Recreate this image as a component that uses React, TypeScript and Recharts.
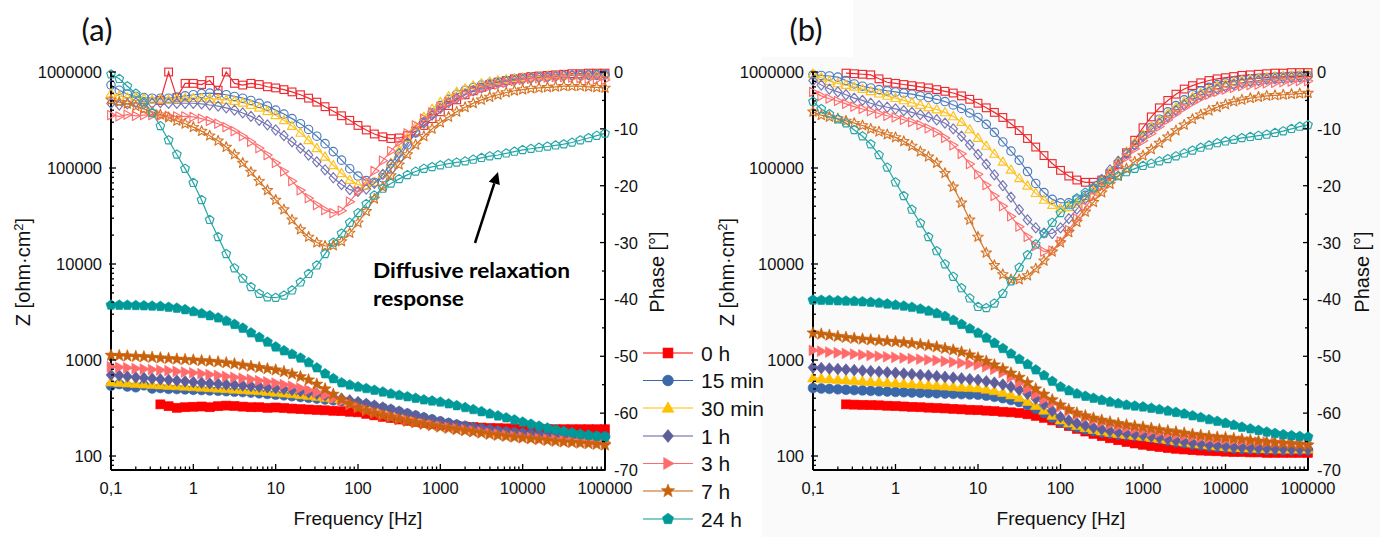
import React from "react";
import { ComposedChart, Line, XAxis, YAxis } from "recharts";

// frequency grid, 10 points per decade
const FREQ = [
  0.1, 0.126, 0.158, 0.2, 0.251, 0.316, 0.398, 0.501, 0.631, 0.794,
  1, 1.26, 1.58, 2, 2.51, 3.16, 3.98, 5.01, 6.31, 7.94,
  10, 12.6, 15.8, 20, 25.1, 31.6, 39.8, 50.1, 63.1, 79.4,
  100, 126, 158, 200, 251, 316, 398, 501, 631, 794,
  1000, 1260, 1580, 2000, 2510, 3160, 3980, 5010, 6310, 7940,
  10000, 12600, 15800, 20000, 25100, 31600, 39800, 50100, 63100, 79400,
  100000,
];

const X_MAJOR = [0.1, 1, 10, 100, 1000, 10000, 100000];
const X_LABELS = ["0,1", "1", "10", "100", "1000", "10000", "100000"];
const Z_MAJOR = [100, 1000, 10000, 100000, 1000000];
const Z_LABELS = ["100", "1000", "10000", "100000", "1000000"];
const P_MAJOR = [0, -10, -20, -30, -40, -50, -60, -70];
const P_LABELS = ["0", "-10", "-20", "-30", "-40", "-50", "-60", "-70"];
const LEGEND_NAMES = ["0 h", "15 min", "30 min", "1 h", "3 h", "7 h", "24 h"];

// ---------- panel (a): |Z| ----------
const A_Z_0H = [
  null, null, null, null, null, null, 345, 330, 318, 322,
  326, 328, 322, 330, 335, 332, 327, 322, 322, 318,
  320, 316, 312, 308, 305, 302, 299, 296, 293, 289,
  285, 275, 265, 256, 248, 240, 233, 227, 221, 216,
  212, 208, 205, 202, 200, 198, 196, 195, 194, 193,
  192, 191, 191, 190, 190, 190, 190, 190, 190, 190,
  190,
];
const A_Z_15M = [
  540, 560, 530, 520, 545, 505, 510, 500, 498, 494,
  490, 486, 482, 478, 473, 468, 463, 457, 450, 443,
  435, 428, 420, 412, 404, 396, 388, 380, 372, 364,
  356, 344, 331, 318, 304, 290, 276, 263, 251, 240,
  229, 220, 212, 205, 198, 192, 187, 182, 178, 175,
  172, 169, 167, 165, 164, 163, 162, 161, 160, 160,
  160,
];
const A_Z_30M = [
  590, 582, 575, 568, 561, 555, 549, 543, 537, 531,
  525, 519, 513, 507, 501, 495, 489, 483, 477, 469,
  460, 452, 444, 435, 425, 415, 405, 395, 385, 372,
  360, 346, 332, 318, 303, 288, 274, 261, 249, 237,
  226, 216, 208, 200, 193, 187, 182, 177, 173, 169,
  166, 163, 160, 158, 156, 154, 153, 152, 151, 150,
  150,
];
const A_Z_1H = [
  700, 690, 675, 660, 650, 640, 630, 620, 610, 600,
  590, 580, 572, 565, 557, 550, 543, 536, 528, 520,
  510, 500, 488, 475, 460, 445, 428, 410, 395, 380,
  365, 350, 335, 320, 305, 290, 275, 262, 250, 238,
  227, 218, 210, 203, 197, 191, 186, 182, 178, 175,
  172, 169, 167, 165, 163, 161, 159, 158, 157, 156,
  155,
];
const A_Z_3H = [
  850, 840, 830, 815, 805, 795, 785, 775, 760, 748,
  735, 720, 705, 690, 675, 660, 645, 630, 610, 592,
  575, 555, 535, 510, 485, 460, 430, 400, 370, 345,
  322, 302, 285, 270, 257, 245, 235, 226, 218, 211,
  205, 199, 193, 188, 183, 178, 173, 169, 165, 161,
  158, 155, 152, 150, 148, 146, 144, 142, 141, 140,
  139,
];
const A_Z_7H = [
  1120, 1110, 1100, 1090, 1080, 1065, 1050, 1035, 1020, 1010,
  1000, 985, 970, 955, 935, 910, 885, 860, 835, 810,
  787, 755, 715, 670, 620, 560, 500, 440, 390, 350,
  318, 295, 278, 264, 252, 240, 230, 222, 214, 207,
  200, 194, 188, 183, 178, 173, 168, 164, 160, 157,
  154, 151, 148, 145, 142, 140, 138, 136, 134, 132,
  130,
];
const A_Z_24H = [
  3740, 3730, 3720, 3700, 3680, 3650, 3620, 3550, 3470, 3350,
  3200, 3050, 2900, 2750, 2550, 2350, 2150, 1920, 1720, 1540,
  1370, 1250, 1150, 1050, 940, 830, 720, 640, 580, 550,
  525, 505, 485, 465, 445, 430, 415, 400, 385, 375,
  365, 350, 335, 320, 305, 290, 275, 262, 250, 238,
  226, 215, 205, 196, 188, 181, 175, 169, 165, 161,
  158,
];

// ---------- panel (a): phase ----------
const A_P_0H = [
  null, null, null, null, null, null, -5, 0, -4.5, -2,
  -2, -2.2, -1.5, -3.2, 0, -2, -2.3, -2, -2.2, -2.6,
  -2.8, -3.1, -3.5, -4, -4.6, -5.3, -6.1, -6.9, -7.7, -8.5,
  -9.4, -10.2, -10.9, -11.4, -11.7, -11.6, -11.2, -10.4, -9.4, -8.2,
  -7, -5.9, -4.9, -4, -3.3, -2.7, -2.2, -1.8, -1.5, -1.2,
  -1, -0.8, -0.7, -0.6, -0.5, -0.4, -0.3, -0.3, -0.2, -0.2,
  -0.2,
];
const A_P_15M = [
  -2.3, -3.2, -3.9, -4.3, -4.5, -4.6, -4.6, -4.6, -4.4, -4.2,
  -4, -3.8, -3.7, -3.8, -4, -4.3, -4.6, -5, -5.5, -6,
  -6.7, -7.4, -8.2, -9.1, -10.1, -11.3, -12.6, -14, -15.5, -17,
  -18.3, -19.1, -19.4, -18.6, -17, -15, -12.8, -10.7, -8.8, -7.2,
  -5.9, -4.8, -3.9, -3.2, -2.7, -2.3, -2, -1.7, -1.5, -1.3,
  -1.1, -1, -0.9, -0.8, -0.7, -0.6, -0.6, -0.5, -0.5, -0.4,
  -0.4,
];
const A_P_30M = [
  -3.8, -4.2, -4.5, -4.4, -4.7, -4.9, -4.8, -4.9, -4.7, -4.6,
  -4.6, -4.6, -4.7, -4.8, -4.9, -5.1, -5.4, -5.8, -6.3, -6.9,
  -7.6, -8.5, -9.5, -10.7, -12, -13.4, -14.9, -16.4, -17.8, -19,
  -19.8, -20, -19.4, -18, -16, -13.8, -11.6, -9.6, -7.9, -6.5,
  -5.3, -4.3, -3.5, -2.9, -2.4, -2, -1.7, -1.5, -1.3, -1.1,
  -1, -0.9, -0.8, -0.7, -0.7, -0.6, -0.6, -0.5, -0.5, -0.5,
  -0.5,
];
const A_P_1H = [
  -5.5, -5.8, -5.6, -5.4, -5.6, -5.5, -5.4, -5.5, -5.5, -5.5,
  -5.5, -5.6, -5.8, -6, -6.3, -6.7, -7.2, -7.8, -8.5, -9.3,
  -10.2, -11.2, -12.3, -13.4, -14.6, -15.8, -17.2, -18.6, -19.8, -20.7,
  -21, -20.6, -19.6, -18, -16.2, -14.3, -12.4, -10.6, -9, -7.6,
  -6.4, -5.4, -4.6, -3.9, -3.3, -2.8, -2.4, -2, -1.7, -1.5,
  -1.3, -1.1, -1, -0.9, -0.8, -0.7, -0.6, -0.6, -0.5, -0.5,
  -0.5,
];
const A_P_3H = [
  -7.6, -7.8, -7.5, -7.7, -7.6, -7.6, -7.7, -7.7, -7.8, -7.8,
  -7.9, -8.2, -8.6, -9.1, -9.7, -10.4, -11.3, -12.3, -13.4, -14.6,
  -16, -17.5, -19.2, -20.8, -22.2, -23.4, -24.3, -24.8, -24.4, -22.8,
  -21, -19.2, -17.4, -15.6, -13.9, -12.3, -10.8, -9.4, -8.2, -7.1,
  -6.1, -5.3, -4.6, -4, -3.4, -2.9, -2.5, -2.2, -1.9, -1.6,
  -1.4, -1.2, -1.1, -1, -0.9, -0.9, -1, -1.1, -1.2, -1.3,
  -1.4,
];
const A_P_7H = [
  -4.9, -5.3, -5.6, -6, -6.5, -7, -7.5, -8, -8.6, -9.1,
  -9.7, -10.4, -11.2, -12.1, -13.2, -14.5, -16, -17.6, -19.2, -20.8,
  -22.5, -24.2, -26, -27.7, -29, -30, -30.6, -30.5, -29.8, -28.3,
  -26.5, -24.5, -22.3, -20.2, -18.2, -16.3, -14.5, -12.8, -11.3, -10,
  -8.9, -7.9, -7, -6.2, -5.5, -4.9, -4.4, -4, -3.6, -3.3,
  -3.1, -2.9, -2.8, -2.7, -2.6, -2.5, -2.5, -2.5, -2.6, -2.7,
  -2.8,
];
const A_P_24H = [
  -0.4, -1.2, -2.5, -3.8, -5.3, -7.2, -9.5, -12, -14.5, -17,
  -19.5, -22.5, -26, -29, -32, -34.5, -36.3, -37.8, -39, -39.6,
  -39.7, -39.3, -38.4, -37, -35.5, -34, -32, -30, -28.4, -26.5,
  -24.8, -23.2, -21.7, -20.5, -19.6, -18.8, -18.1, -17.5, -17, -16.7,
  -16.4, -16.1, -15.9, -15.7, -15.4, -15.1, -14.8, -14.6, -14.3, -14,
  -13.7, -13.5, -13.3, -13.1, -12.9, -12.7, -12.4, -12, -11.6, -11.2,
  -10.8,
];

// ---------- panel (b): |Z| ----------
const B_Z_0H = [
  null, null, null, null, 345, 343, 341, 339, 337, 334,
  331, 328, 325, 322, 319, 316, 313, 310, 306, 303,
  300, 297, 293, 289, 285, 280, 272, 262, 250, 235,
  220, 205, 192, 180, 170, 161, 153, 146, 140, 135,
  131, 127, 124, 121, 119, 117, 115, 114, 113, 112,
  111, 110, 110, 109, 109, 108, 108, 108, 108, 108,
  108,
];
const B_Z_15M = [
  510, 505, 500, 495, 490, 486, 482, 477, 473, 469,
  465, 462, 459, 456, 453, 450, 447, 444, 441, 438,
  435, 425, 413, 400, 383, 365, 340, 310, 280, 250,
  225, 210, 198, 189, 182, 176, 171, 167, 164, 162,
  160, 155, 150, 145, 140, 136, 132, 129, 126, 124,
  122, 120, 119, 118, 117, 116, 116, 115, 115, 115,
  115,
];
const B_Z_30M = [
  650, 642, 634, 626, 618, 610, 603, 596, 589, 582,
  575, 568, 561, 554, 547, 540, 534, 527, 520, 515,
  510, 495, 478, 458, 432, 405, 370, 335, 300, 265,
  237, 220, 207, 197, 189, 182, 176, 171, 167, 163,
  160, 156, 152, 148, 144, 140, 136, 133, 130, 127,
  125, 123, 122, 121, 120, 119, 119, 118, 118, 118,
  118,
];
const B_Z_1H = [
  835, 825, 815, 805, 795, 785, 775, 765, 755, 745,
  735, 723, 712, 700, 690, 678, 667, 655, 643, 632,
  620, 600, 580, 555, 525, 490, 445, 395, 345, 295,
  255, 235, 220, 208, 198, 190, 183, 177, 172, 168,
  165, 160, 155, 150, 145, 141, 137, 134, 131, 128,
  126, 124, 123, 122, 121, 120, 119, 119, 118, 118,
  118,
];
const B_Z_3H = [
  1260, 1235, 1210, 1190, 1170, 1150, 1130, 1115, 1095, 1080,
  1065, 1050, 1035, 1020, 1005, 990, 970, 950, 930, 910,
  890, 850, 800, 740, 660, 580, 500, 440, 390, 355,
  325, 295, 270, 252, 237, 225, 214, 205, 197, 191,
  185, 180, 175, 170, 166, 162, 158, 155, 152, 150,
  148, 146, 144, 142, 140, 139, 138, 137, 136, 135,
  135,
];
const B_Z_7H = [
  1910, 1860, 1810, 1760, 1720, 1680, 1650, 1620, 1590, 1570,
  1550, 1520, 1490, 1450, 1410, 1370, 1320, 1270, 1210, 1130,
  1050, 970, 890, 810, 730, 660, 580, 500, 440, 385,
  340, 305, 280, 262, 248, 236, 226, 218, 211, 205,
  200, 194, 188, 183, 178, 173, 168, 164, 160, 157,
  155, 152, 149, 146, 143, 140, 138, 136, 134, 132,
  130,
];
const B_Z_24H = [
  4220, 4200, 4180, 4150, 4120, 4090, 4050, 4000, 3930, 3840,
  3740, 3650, 3540, 3400, 3240, 3060, 2850, 2600, 2350, 2120,
  1910, 1700, 1500, 1320, 1160, 1020, 900, 790, 690, 600,
  525, 480, 445, 420, 400, 382, 366, 352, 340, 332,
  325, 315, 305, 295, 285, 275, 263, 252, 240, 230,
  220, 210, 200, 192, 185, 178, 172, 167, 163, 160,
  158,
];

// ---------- panel (b): phase ----------
const B_P_0H = [
  null, null, null, null, -0.2, -0.3, -0.4, -0.5, -1.2, -1.8,
  -2, -2.2, -2.4, -2.6, -2.8, -3.1, -3.4, -3.7, -4.2, -4.8,
  -5.5, -6.3, -7.1, -8, -9.1, -10.3, -11.7, -13.2, -14.7, -16.1,
  -17.3, -18.3, -19, -19.4, -19.4, -19, -18, -16.3, -14.2, -12,
  -9.8, -7.9, -6.3, -5, -3.9, -3, -2.4, -1.9, -1.5, -1.2,
  -1, -0.8, -0.6, -0.5, -0.4, -0.3, -0.2, -0.2, -0.1, -0.1,
  -0.1,
];
const B_P_15M = [
  -0.5, -0.6, -0.7, -0.9, -1.5, -2.1, -2.5, -2.8, -3.1, -3.3,
  -3.5, -3.7, -3.9, -4.2, -4.5, -4.8, -5.2, -5.8, -6.4, -7.2,
  -8, -9.2, -10.6, -12.3, -13.9, -15.5, -17.5, -19.6, -21.2, -22.4,
  -23, -23, -22.5, -21.7, -20.6, -19.3, -17.8, -16.1, -14.4, -12.8,
  -11.2, -9.7, -8.3, -7, -5.9, -4.9, -4, -3.3, -2.7, -2.2,
  -1.9, -1.6, -1.4, -1.2, -1.1, -1, -0.9, -0.8, -0.7, -0.6,
  -0.6,
];
const B_P_30M = [
  -0.3, -1, -1.6, -2, -2.3, -2.6, -3, -3.4, -3.8, -4.2,
  -4.6, -5, -5.4, -5.8, -6.2, -6.6, -7.1, -7.8, -8.8, -10.1,
  -11.6, -13, -14.4, -15.8, -17.2, -18.7, -20, -21.3, -22.5, -23.4,
  -24, -23.8, -23.2, -22.2, -20.9, -19.3, -17.6, -15.8, -14, -12.4,
  -11, -9.7, -8.5, -7.3, -6.2, -5.2, -4.4, -3.7, -3.1, -2.5,
  -2.1, -1.8, -1.5, -1.3, -1.1, -0.9, -0.8, -0.7, -0.6, -0.5,
  -0.4,
];
const B_P_1H = [
  -1.5, -2.3, -3, -3.5, -4, -4.6, -5, -5.5, -5.9, -6.2,
  -6.5, -6.8, -7.1, -7.5, -7.9, -8.4, -9, -10, -11.3, -12.8,
  -14.5, -16.2, -18.1, -20, -22, -24.2, -26, -27.4, -28.3, -28.4,
  -27.4, -25.8, -24.1, -22.3, -20.5, -18.9, -17.2, -15.7, -14.3, -12.8,
  -11.4, -10.1, -9, -7.9, -6.8, -5.8, -4.9, -4.1, -3.5, -3,
  -2.6, -2.2, -1.9, -1.7, -1.5, -1.3, -1.2, -1.1, -1, -0.9,
  -0.8,
];
const B_P_3H = [
  -3.5, -4.2, -4.7, -5.1, -5.6, -6.1, -6.5, -6.9, -7.3, -7.7,
  -8, -8.4, -8.8, -9.3, -9.9, -10.6, -11.6, -12.9, -14.4, -16.2,
  -18, -19.9, -21.8, -23.6, -25.4, -27.2, -29, -30.6, -31.6, -31.4,
  -29.8, -27.8, -25.8, -23.8, -21.9, -20.1, -18.3, -16.6, -15, -13.5,
  -12.1, -10.8, -9.6, -8.4, -7.3, -6.3, -5.4, -4.6, -4, -3.5,
  -3.1, -2.8, -2.5, -2.3, -2.2, -2, -1.9, -1.8, -1.7, -1.6,
  -1.6,
];
const B_P_7H = [
  -7, -7.6, -7.9, -8.2, -8.6, -9, -9.4, -10, -10.5, -11,
  -11.5, -12.2, -13, -14, -14.9, -16, -17.8, -20.2, -23, -26,
  -29, -31.8, -34, -35.6, -36.5, -36.5, -35.8, -34.6, -33.2, -31.6,
  -30, -28.2, -26.4, -24.6, -22.9, -21.2, -19.7, -18.3, -17, -15.8,
  -14.7, -13.6, -12.5, -11.4, -10.3, -9.3, -8.3, -7.5, -6.8, -6.2,
  -5.7, -5.2, -4.9, -4.6, -4.4, -4.2, -4.1, -4, -3.9, -3.8,
  -3.7,
];
const B_P_24H = [
  -5.2, -6.5, -7.4, -8.3, -9, -10.2, -11.3, -12.7, -14.6, -16.8,
  -19.4, -21.8, -24.2, -26.6, -29, -31.5, -33.8, -36, -38, -39.8,
  -41.3, -41.5, -40.7, -39, -36.8, -34.4, -32.2, -30.3, -28.4, -26.5,
  -24.8, -23.4, -22.2, -21.2, -20.3, -19.5, -18.9, -18.3, -17.6, -17,
  -16.5, -16.1, -15.7, -15.3, -14.8, -14.3, -13.8, -13.3, -12.9, -12.5,
  -12.2, -11.9, -11.6, -11.4, -11.2, -11, -10.7, -10.4, -10, -9.6,
  -9.3,
];

type Shape = "square" | "circle" | "triangle" | "diamond" | "tright" | "star" | "pentagon";

const STYLES: { shape: Shape; color: string; open: string }[] = [
  { shape: "square", color: "#ff0000", open: "#ee2a30" },
  { shape: "circle", color: "#3a68a8", open: "#4d7cbd" },
  { shape: "triangle", color: "#ffc000", open: "#ffc21e" },
  { shape: "diamond", color: "#5e5e9c", open: "#7676b4" },
  { shape: "tright", color: "#ff6b6b", open: "#ff6e6e" },
  { shape: "star", color: "#c8620c", open: "#d67526" },
  { shape: "pentagon", color: "#009999", open: "#27a6a6" },
];

const FONT = "'Liberation Sans', Arial, sans-serif";
const Z_MIN = 71.5;

const minorTicks = (from: number, to: number) => {
  const out: number[] = [];
  for (let e = from; e <= to; e++) for (let m = 2; m <= 9; m++) out.push(m * Math.pow(10, e));
  return out;
};
const X_TICKS = [...X_MAJOR, ...minorTicks(-1, 4)];
const Z_TICKS = [...Z_MAJOR, 80, 90, ...minorTicks(2, 5)];
const P_TICKS = [...P_MAJOR, -5, -15, -25, -35, -45, -55, -65];

const poly = (p: number[][]) => p.map(([x, y]) => `${x.toFixed(2)},${y.toFixed(2)}`).join(" ");

function shapePoints(shape: Shape, cx: number, cy: number, r: number) {
  if (shape === "triangle") return poly([[cx, cy - r * 1.15], [cx + r * 1.1, cy + r * 0.8], [cx - r * 1.1, cy + r * 0.8]]);
  if (shape === "tright") return poly([[cx + r * 1.15, cy], [cx - r * 0.8, cy - r * 1.1], [cx - r * 0.8, cy + r * 1.1]]);
  if (shape === "diamond") return poly([[cx, cy - r * 1.2], [cx + r, cy], [cx, cy + r * 1.2], [cx - r, cy]]);
  const pts: number[][] = [];
  if (shape === "pentagon") {
    for (let k = 0; k < 5; k++) {
      const a = (-90 + k * 72) * (Math.PI / 180);
      pts.push([cx + r * 1.08 * Math.cos(a), cy + r * 1.08 * Math.sin(a)]);
    }
  } else {
    for (let k = 0; k < 10; k++) {
      const a = (-90 + k * 36) * (Math.PI / 180);
      const rr = k % 2 === 0 ? r * 1.3 : r * 0.55;
      pts.push([cx + rr * Math.cos(a), cy + rr * Math.sin(a)]);
    }
  }
  return poly(pts);
}

function Mark({ shape, cx, cy, r, fill, stroke, sw }: { shape: Shape; cx: number; cy: number; r: number; fill: string; stroke: string; sw: number }) {
  if (shape === "circle") return <circle cx={cx} cy={cy} r={r} fill={fill} stroke={stroke} strokeWidth={sw} />;
  if (shape === "square")
    return <rect x={cx - r * 0.92} y={cy - r * 0.92} width={r * 1.84} height={r * 1.84} fill={fill} stroke={stroke} strokeWidth={sw} />;
  return <polygon points={shapePoints(shape, cx, cy, r)} fill={fill} stroke={stroke} strokeWidth={sw} strokeLinejoin="round" />;
}

const XTick = (p: any) => {
  const i = X_MAJOR.indexOf(p.payload.value);
  const major = i >= 0;
  return (
    <g>
      <line x1={p.x} x2={p.x} y1={p.y} y2={p.y - (major ? 6 : 3.5)} stroke="#000" strokeWidth={1.3} />
      {major && (
        <text x={p.x} y={p.y + 24} textAnchor="middle" fontSize={16.5} fontFamily={FONT} fill="#111">
          {X_LABELS[i]}
        </text>
      )}
    </g>
  );
};

const ZTick = (p: any) => {
  const i = Z_MAJOR.indexOf(p.payload.value);
  const major = i >= 0;
  return (
    <g>
      <line x1={major ? p.x - 2 : p.x} x2={p.x + (major ? 5 : 3)} y1={p.y} y2={p.y} stroke="#000" strokeWidth={1.3} />
      {major && (
        <text x={p.x - 9} y={p.y + 6} textAnchor="end" fontSize={16.5} fontFamily={FONT} fill="#111">
          {Z_LABELS[i]}
        </text>
      )}
    </g>
  );
};

const PTick = (p: any) => {
  const i = P_MAJOR.indexOf(p.payload.value);
  const major = i >= 0;
  return (
    <g>
      <line x1={major ? p.x + 1 : p.x} x2={p.x - (major ? 5 : 3)} y1={p.y} y2={p.y} stroke="#000" strokeWidth={1.3} />
      {major && (
        <text x={p.x + 9} y={p.y + 6} textAnchor="start" fontSize={16.5} fontFamily={FONT} fill="#111">
          {P_LABELS[i]}
        </text>
      )}
    </g>
  );
};

const dotRenderer = (j: number, filled: boolean) => (p: any) => {
  const k = `${filled ? "z" : "p"}${j}-${p.index}`;
  if (p.value == null || p.cx == null || p.cy == null || Number.isNaN(p.cy)) return <g key={k} />;
  const s = STYLES[j];
  return filled ? (
    <Mark key={k} shape={s.shape} cx={p.cx} cy={p.cy} r={4.9} fill={s.color} stroke={s.color} sw={0.6} />
  ) : (
    <Mark key={k} shape={s.shape} cx={p.cx} cy={p.cy} r={4.2} fill="none" stroke={s.open} sw={1.15} />
  );
};

const AXIS = { stroke: "#000", strokeWidth: 2 };

function Panel({ left, width, ml, mr, zs, ps }: { left: number; width: number; ml: number; mr: number; zs: (number | null)[][]; ps: (number | null)[][] }) {
  const rows = FREQ.map((f, i) => {
    const row: Record<string, number | null> = { f };
    zs.forEach((s, j) => (row[`z${j}`] = s[i]));
    ps.forEach((s, j) => (row[`p${j}`] = s[i]));
    return row;
  });
  return (
    <div style={{ position: "absolute", left, top: 0 }}>
      <ComposedChart width={width} height={537} data={rows} margin={{ top: 72, right: mr, bottom: 27, left: ml }}>
        <XAxis dataKey="f" type="number" scale="log" domain={[0.1, 100000]} ticks={X_TICKS} interval={0}
          tick={XTick} tickLine={false} tickSize={0} tickMargin={0} axisLine={AXIS} height={40} />
        <YAxis yAxisId="z" orientation="left" type="number" scale="log" domain={[Z_MIN, 1000000]} ticks={Z_TICKS}
          interval={0} tick={ZTick} tickLine={false} tickSize={0} tickMargin={0} axisLine={AXIS} width={70} />
        <YAxis yAxisId="p" orientation="right" type="number" domain={[-70, 0]} ticks={P_TICKS} interval={0}
          tick={PTick} tickLine={false} tickSize={0} tickMargin={0} axisLine={AXIS} width={40} />
        {zs.map((_, j) => (
          <Line key={`z${j}`} yAxisId="z" type="linear" dataKey={`z${j}`} stroke={STYLES[j].color} strokeWidth={1.2}
            dot={dotRenderer(j, true)} activeDot={false} isAnimationActive={false} />
        ))}
        {ps.map((_, j) => (
          <Line key={`p${j}`} yAxisId="p" type="linear" dataKey={`p${j}`} stroke={STYLES[j].open} strokeWidth={1.2}
            dot={dotRenderer(j, false)} activeDot={false} isAnimationActive={false} />
        ))}
      </ComposedChart>
    </div>
  );
}

function Overlay() {
  const legendY = [353, 380.5, 408, 436, 463.5, 491, 519];
  return (
    <svg width={1392} height={537} style={{ position: "absolute", left: 0, top: 0, pointerEvents: "none" }}>
      <text x={97} y={41} textAnchor="middle" fontSize={31} fontFamily="Lato, 'Open Sans', sans-serif" fill="#111">(a)</text>
      <text x={806} y={41} textAnchor="middle" fontSize={31} fontFamily="Lato, 'Open Sans', sans-serif" fill="#111">(b)</text>

      {[{ x: 30, c: 272 }, { x: 734, c: 272 }].map((t, i) => (
        <text key={`zt${i}`} x={t.x} y={t.c} transform={`rotate(-90 ${t.x} ${t.c})`} textAnchor="middle" fontSize={20} fontFamily={FONT} fill="#111">
          Z [ohm·cm<tspan dy={-7} fontSize={13}>2</tspan>
          <tspan dy={7}>]</tspan>
        </text>
      ))}
      {[{ x: 664, c: 272 }, { x: 1369, c: 272 }].map((t, i) => (
        <text key={`pt${i}`} x={t.x} y={t.c} transform={`rotate(-90 ${t.x} ${t.c})`} textAnchor="middle" fontSize={20} fontFamily={FONT} fill="#111">
          Phase [°]
        </text>
      ))}
      <text x={358} y={525} textAnchor="middle" fontSize={19} fontFamily={FONT} fill="#111">Frequency [Hz]</text>
      <text x={1061} y={525} textAnchor="middle" fontSize={19} fontFamily={FONT} fill="#111">Frequency [Hz]</text>

      <text x={373} y={278} fontSize={21} fontWeight={700} fontFamily="Lato, 'Open Sans', sans-serif" fill="#000" textLength={197} lengthAdjust="spacingAndGlyphs">
        Diffusive relaxation
      </text>
      <text x={373} y={306} fontSize={21} fontWeight={700} fontFamily="Lato, 'Open Sans', sans-serif" fill="#000" textLength={91} lengthAdjust="spacingAndGlyphs">
        response
      </text>
      <line x1={475} y1={243} x2={494.3} y2={183.4} stroke="#000" strokeWidth={2.5} />
      <polygon points="498,172 499.8,185.1 488.8,181.7" fill="#000" />

      {LEGEND_NAMES.map((name, j) => (
        <g key={name}>
          <line x1={643} x2={693} y1={legendY[j]} y2={legendY[j]} stroke={STYLES[j].color} strokeWidth={1.2} />
          <Mark shape={STYLES[j].shape} cx={668} cy={legendY[j]} r={5.4} fill={STYLES[j].color} stroke={STYLES[j].color} sw={0.6} />
          <text x={701} y={legendY[j] + 7.5} fontSize={21} fontFamily={FONT} fill="#111">{name}</text>
        </g>
      ))}
    </svg>
  );
}

export default function App() {
  return (
    <div style={{ position: "relative", width: 1392, height: 537, background: "#fff", overflow: "hidden" }}>
      <style>{`body{margin:0}`}</style>
      <div style={{ position: "absolute", left: 762, top: 0, width: 618, height: 537, background: "#fafafa" }} />
      <div style={{ position: "absolute", left: 762, top: 0, width: 91, height: 57, background: "#fff" }} />
      <Panel left={0} width={700} ml={41} mr={55}
        zs={[A_Z_0H, A_Z_15M, A_Z_30M, A_Z_1H, A_Z_3H, A_Z_7H, A_Z_24H]}
        ps={[A_P_0H, A_P_15M, A_P_30M, A_P_1H, A_P_3H, A_P_7H, A_P_24H]} />
      <Panel left={700} width={692} ml={43} mr={44}
        zs={[B_Z_0H, B_Z_15M, B_Z_30M, B_Z_1H, B_Z_3H, B_Z_7H, B_Z_24H]}
        ps={[B_P_0H, B_P_15M, B_P_30M, B_P_1H, B_P_3H, B_P_7H, B_P_24H]} />
      <Overlay />
    </div>
  );
}
